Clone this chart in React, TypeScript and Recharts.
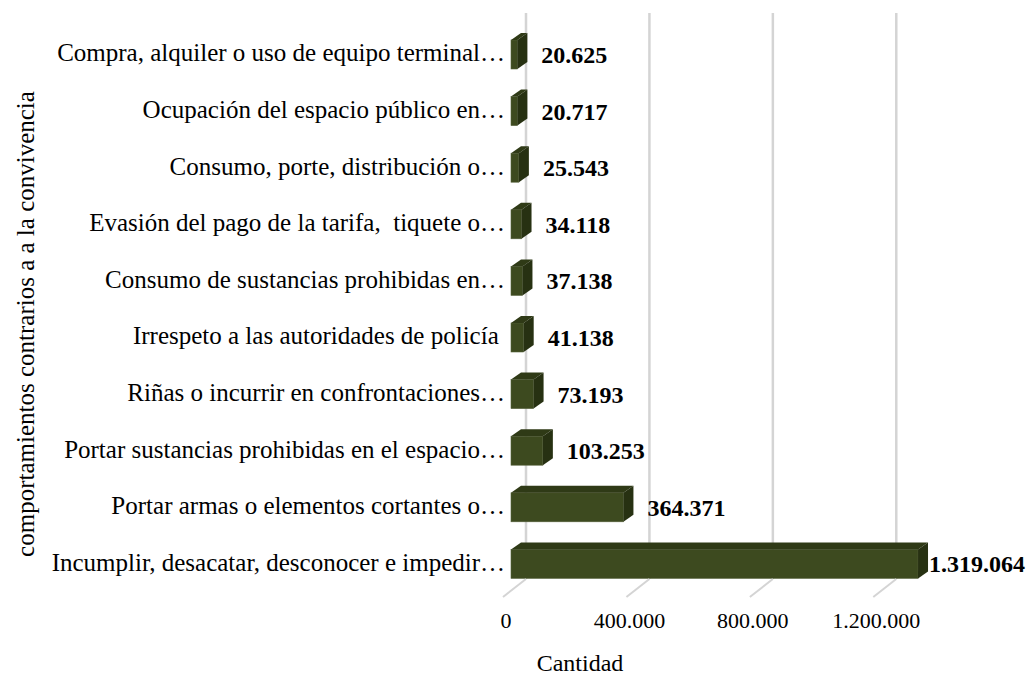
import { BarChart, Bar, XAxis, YAxis, CartesianGrid, LabelList } from "recharts";

const categories = [
  "Compra, alquiler o uso de equipo terminal…",
  "Ocupación del espacio público en…",
  "Consumo, porte, distribución o…",
  "Evasión del pago de la tarifa,  tiquete o…",
  "Consumo de sustancias prohibidas en…",
  "Irrespeto a las autoridades de policía ",
  "Riñas o incurrir en confrontaciones…",
  "Portar sustancias prohibidas en el espacio…",
  "Portar armas o elementos cortantes o…",
  "Incumplir, desacatar, desconocer e impedir…",
];

const cantidad = [20625, 20717, 25543, 34118, 37138, 41138, 73193, 103253, 364371, 1319064];

const xTicks = [0, 400000, 800000, 1200000];

const data = categories.map((name, i) => ({ name, value: cantidad[i] }));

const SERIF = '"Liberation Serif", "Times New Roman", serif';
const CHART_W = 1029;
const DEPTH_X = 15; // back wall offset
const DEPTH_Y = 10;

// thousands with dots, like the spanish excel output
const fmt = (v: number) => String(v).replace(/\B(?=(\d{3})+(?!\d))/g, ".");

function Bar3D(props: any) {
  const { x, y, width, height } = props;
  const s = 10; // side face
  const t = 7; // top face
  const fy = y + t;
  const fh = height - t;
  return (
    <g>
      <rect x={x} y={fy} width={width} height={fh} fill="#3d4a1f" stroke="#55613a" strokeWidth={0.6} />
      <polygon
        points={`${x},${fy} ${x + s},${y} ${x + width + s},${y} ${x + width},${fy}`}
        fill="#2f3a16"
      />
      <polygon
        points={`${x + width},${fy} ${x + width + s},${y} ${x + width + s},${y + fh} ${x + width},${fy + fh}`}
        fill="#273112"
      />
    </g>
  );
}

function CatTick(props: any) {
  const { x, y, payload } = props;
  return (
    <text
      x={x}
      y={y + 10}
      textAnchor="end"
      fontFamily={SERIF}
      fontSize={25}
      fill="#000"
      style={{ whiteSpace: "pre" }}
    >
      {payload.value}
    </text>
  );
}

function ValTick(props: any) {
  const { x, y, payload } = props;
  return (
    <g>
      <line x1={x + DEPTH_X} y1={y - DEPTH_Y} x2={x - 8} y2={y + 8} stroke="#d4d4d4" strokeWidth={2} />
      <text x={x - 5} y={y + 39} textAnchor="middle" fontFamily={SERIF} fontSize={22} fill="#000">
        {payload.value === 0 ? "0" : fmt(payload.value)}
      </text>
    </g>
  );
}

function ValueLabel(props: any) {
  const { x, y, width, height, value } = props;
  const txt = fmt(value);
  const estW = txt.length * 10.7;
  let lx = x + width + 24;
  // excel pulls the biggest label back in so it fits
  if (lx + estW > CHART_W - 2) lx = x + width + 11;
  return (
    <text
      x={lx}
      y={y + height / 2 + 12}
      fontFamily={SERIF}
      fontSize={24}
      fontWeight="bold"
      fill="#000"
    >
      {txt}
    </text>
  );
}

function GridLine(props: any) {
  return (
    <line
      key={`g-${props.index}`}
      x1={props.x1 + DEPTH_X}
      y1={props.y1 - DEPTH_Y}
      x2={props.x2 + DEPTH_X}
      y2={props.y2 - DEPTH_Y}
      stroke="#d4d4d4"
      strokeWidth={2.5}
    />
  );
}

const gridX = ({ xAxis, offset }: any) => {
  if (xAxis && typeof xAxis.scale === "function") return xTicks.map((t) => xAxis.scale(t));
  const pxPer = offset.width / 1400000;
  return xTicks.map((t) => offset.left + t * pxPer);
};

export default function App() {
  return (
    <div style={{ position: "absolute", left: 0, top: 0, width: CHART_W, height: 676, background: "#fff" }}>
      <BarChart
        width={CHART_W}
        height={676}
        data={data}
        layout="vertical"
        margin={{ top: 23, right: 86, bottom: 0, left: 0 }}
        barCategoryGap={10}
      >
        <CartesianGrid horizontal={false} vertical={GridLine} verticalCoordinatesGenerator={gridX} />
        <XAxis
          type="number"
          domain={[0, 1400000]}
          ticks={xTicks}
          axisLine={false}
          tickLine={false}
          tickSize={0}
          tickMargin={0}
          height={87}
          tick={<ValTick />}
          label={({ viewBox }: any) => (
            <text
              x={viewBox.x + 69}
              y={viewBox.y + 82}
              textAnchor="middle"
              fontFamily={SERIF}
              fontSize={24}
              fill="#000"
            >
              Cantidad
            </text>
          )}
        />
        <YAxis
          type="category"
          dataKey="name"
          width={511}
          axisLine={false}
          tickLine={false}
          tickSize={0}
          tickMargin={6}
          interval={0}
          tick={<CatTick />}
          label={() => (
            <text
              x={25}
              y={324}
              transform="rotate(-90, 25, 324)"
              textAnchor="middle"
              dominantBaseline="central"
              fontFamily={SERIF}
              fontSize={25}
              fill="#000"
            >
              comportamientos contrarios a a la convivencia
            </text>
          )}
        />
        <Bar dataKey="value" barSize={36} shape={<Bar3D />} isAnimationActive={false}>
          <LabelList dataKey="value" content={<ValueLabel />} />
        </Bar>
      </BarChart>
    </div>
  );
}
